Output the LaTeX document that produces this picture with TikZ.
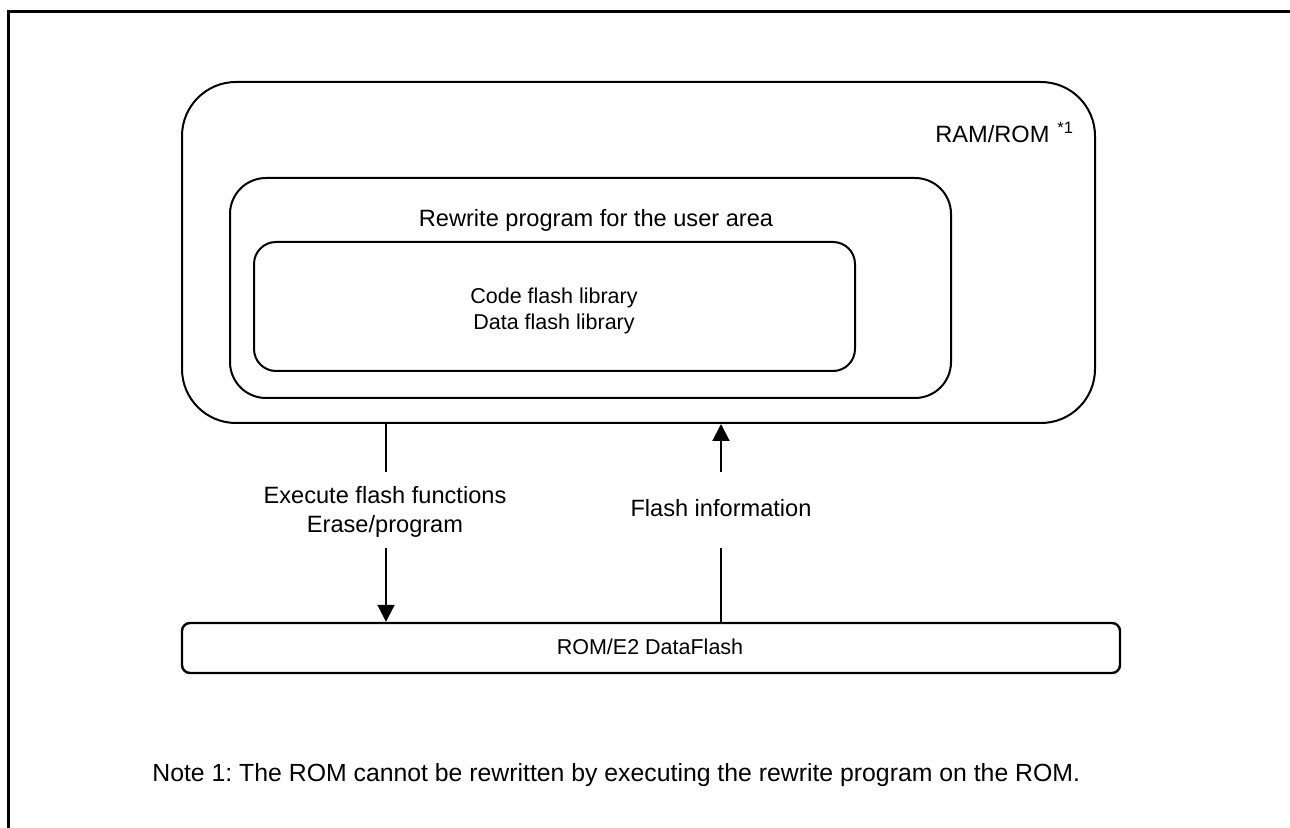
\documentclass[tikz,border=0pt]{standalone}
\usepackage{fontspec}
\setmainfont{Liberation Sans}
\usetikzlibrary{arrows.meta}
\frenchspacing
\begin{document}
\begin{tikzpicture}[x=0.5pt,y=-0.5pt,
  box/.style={draw, line width=1pt, inner sep=0pt},
  lbl/.style={font=\fontsize{11.8}{14.5}\selectfont, align=center, inner sep=0pt},
  small/.style={font=\fontsize{10.75}{13.5}\selectfont, align=center, inner sep=0pt},
  notefont/.style={font=\fontsize{12.4}{15}\selectfont, inner sep=0pt},
  conn/.style={line width=1pt},
  arr/.style={line width=1pt, -{Triangle[length=8.5pt,width=8.5pt]}}
]
\useasboundingbox (0,0) rectangle (1290,828);
% page frame
\draw[line width=1.5pt] (8.5,828) -- (8.5,12) -- (1290,12);

% boxes
\node[box, rounded corners=27pt, minimum width=456.5pt, minimum height=170.5pt] (ramrom) at (638.5,252.5) {};
\node[box, rounded corners=18pt, minimum width=360.5pt, minimum height=110pt] (rewrite) at (590.5,288) {};
\node[box, rounded corners=11pt, minimum width=300.5pt, minimum height=64.5pt] (lib) at (554.5,306.5) {};
\node[box, line width=1.2pt, rounded corners=4pt, minimum width=469pt, minimum height=25pt] (rom) at (651,648) {};

% texts
\node[lbl, anchor=base west] (ramromlbl) at (935,142.5) {RAM/ROM\,\,\textsuperscript{*1}};
\node[lbl, anchor=base] (rewritelbl) at (596,227) {Rewrite program for the user area};
\node[small, anchor=base] (codelbl) at (554,304) {Code flash library};
\node[small, anchor=base] (datalbl) at (554,330) {Data flash library};
\node[small, anchor=base] (romlbl) at (650,654.5) {ROM/E2 DataFlash};
\node[lbl, anchor=base] (execlbl) at (385,503.5) {Execute flash functions};
\node[lbl, anchor=base] (eraselbl) at (385,532.5) {Erase/program};
\node[lbl] (infolbl) at (721,508) {Flash information};
\node[notefont, anchor=base west] (note) at (152,781) {Note 1: The ROM cannot be rewritten by executing the rewrite program on the ROM.};

% connectors
\coordinate (d1) at (386,472);
\coordinate (d2) at (386,548);
\coordinate (u1) at (721,548);
\coordinate (u2) at (721,472);
\draw[conn] (ramrom.south -| d1) -- (d1);
\draw[arr] (d2) -- (rom.north -| d2);
\draw[conn] (rom.north -| u1) -- (u1);
\draw[arr] (u2) -- (ramrom.south -| u2);
\end{tikzpicture}
\end{document}
